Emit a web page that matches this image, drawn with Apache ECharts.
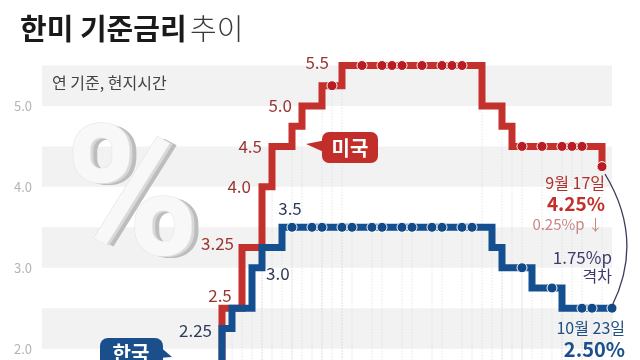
<!DOCTYPE html>
<html><head><meta charset="utf-8">
<script src="https://cdn.jsdelivr.net/npm/echarts@6/dist/echarts.min.js"></script>
<style>html,body{margin:0;padding:0;background:#fff}#c{width:640px;height:360px}</style>
</head><body><div id="c"></div>
<script>
// ---- data (month of decision, policy rate upper bound %) ----
const usDates = ['2022-06','2022-07','2022-09','2022-11','2022-12','2023-02','2023-03','2023-05','2023-06','2023-07','2023-09','2023-11','2023-12','2024-01','2024-03','2024-05','2024-06','2024-07','2024-09','2024-11','2024-12','2025-01','2025-03','2025-05','2025-06','2025-07','2025-09'];
const usRates = [1.75,2.5,3.25,4.0,4.5,4.75,5.0,5.25,5.25,5.5,5.5,5.5,5.5,5.5,5.5,5.5,5.5,5.5,5.0,4.75,4.5,4.5,4.5,4.5,4.5,4.5,4.25];
const krDates = ['2022-05','2022-07','2022-08','2022-10','2022-11','2023-01','2023-02','2023-04','2023-05','2023-07','2023-08','2023-10','2023-11','2024-01','2024-02','2024-04','2024-05','2024-07','2024-08','2024-10','2024-11','2025-01','2025-02','2025-04','2025-05','2025-07','2025-08','2025-10'];
const krRates = [1.75,2.25,2.5,3.0,3.25,3.5,3.5,3.5,3.5,3.5,3.5,3.5,3.5,3.5,3.5,3.5,3.5,3.5,3.5,3.25,3.0,3.0,2.75,2.75,2.5,2.5,2.5,2.5];
const usLabelDates = ['2022-07','2022-09','2022-11','2022-12','2023-03','2023-07'];
const krLabelDates = ['2022-07','2022-10','2023-01'];
const yTicks = [2.0, 3.0, 4.0, 5.0];
const axisStart = '2021-01';
const axisEnd = '2025-10';

// ---- helpers ----
const F = "'Noto Sans CJK KR','Noto Sans',sans-serif";
function mIdx(s){ const [y,m] = s.split('-').map(Number); return (y-2021)*12 + (m-1); }
function fmt(v){ return (Math.round(v*100)%10!==0) ? v.toFixed(2) : v.toFixed(1); }

const usLabelStyle = {
  '2022-07': {position:'top', offset:[-2,2]},
  '2022-09': {position:'left', offset:[-2,-4]},
  '2022-11': {position:'left', offset:[-5,0]},
  '2022-12': {position:'left', offset:[-4,0]},
  '2023-03': {position:'left', offset:[-4,0]},
  '2023-07': {position:'left', offset:[-7,-3]}
};
const krLabelStyle = {
  '2022-07': {position:'left', offset:[-4,2]},
  '2022-10': {position:'right', offset:[8,6]},
  '2023-01': {position:'top', offset:[8,-4]}
};

function build(dates, rates, labelDates, labelStyle, labelColor){
  return dates.map((d,i)=>{
    const hold = i>0 && rates[i]===rates[i-1];
    const last = i===dates.length-1;
    const dot = hold || last;
    const item = {value:[mIdx(d), rates[i]], symbol:'circle'};
    if (!dot) {
      item.symbolSize = 2;
      item.itemStyle = {color:'rgba(0,0,0,0)', borderWidth:0};
    }
    if (labelDates.includes(d)) {
      item.label = Object.assign({show:true, formatter: fmt(rates[i]), color:labelColor,
        fontSize:17, fontFamily:F, opacity:1}, labelStyle[d]);
    }
    return item;
  });
}
const usData = build(usDates, usRates, usLabelDates, usLabelStyle, '#9a3532');
const krData = build(krDates, krRates, krLabelDates, krLabelStyle, '#2e3b58');
const usMax = Math.max(...usRates);
const dropData = usData.filter((p,i)=>!(i>0 && usRates[i]===usRates[i-1] && usRates[i]===usMax))
  .concat(krData).map(p=>p.value);

const chart = echarts.init(document.getElementById('c'), null, {renderer:'canvas'});
chart.setOption({
  animation:false,
  backgroundColor:'#fff',
  grid:{left:42, top:65.5, width:570, height:323.6, containLabel:false, outerBoundsMode:'none'},
  xAxis:{type:'value', min:mIdx(axisStart), max:mIdx(axisEnd), show:false},
  yAxis:{type:'value', min:1.5, max:5.5, interval:0.5,
    axisLine:{show:false}, axisTick:{show:false}, splitLine:{show:false},
    splitArea:{show:true, areaStyle:{color:['rgba(255,255,255,0)','#f2f2f2']}},
    axisLabel:{margin:10, color:'#b4b4b4', fontSize:13, fontFamily:F,
      formatter:v=> yTicks.includes(v) ? v.toFixed(1) : ''}},
  series:[
    {type:'custom', z:1, silent:true, data:dropData,
      renderItem:(params, api)=>{
        const p = api.coord([api.value(0), api.value(1)]);
        const b = api.coord([api.value(0), 1.5]);
        return {type:'line', shape:{x1:p[0],y1:p[1],x2:b[0],y2:b[1]},
          style:{stroke:'#dedede', lineWidth:0.8, lineDash:[1.5,1.5]}};
      }},
    {type:'line', name:'미국', step:'end', z:3, data:usData, showAllSymbol:true,
      symbolSize:10, clip:true, silent:true,
      lineStyle:{color:'#c4312c', width:7, join:'miter', cap:'butt'},
      itemStyle:{color:'#b71d22', borderColor:'#fff', borderWidth:1}},
    {type:'line', name:'한국', step:'end', z:4, data:krData, showAllSymbol:true,
      symbolSize:10, clip:true, silent:true,
      lineStyle:{color:'#14508f', width:7, join:'miter', cap:'butt'},
      itemStyle:{color:'#124a87', borderColor:'#fff', borderWidth:1}}
  ],
  graphic:[
    {type:'text', x:20, y:29, z:10, style:{text:'{b|한미 기준금리} {l|추이}', textVerticalAlign:'middle',
      rich:{b:{fontSize:29, fontWeight:'bold', fill:'#1a1a1a', fontFamily:F},
            l:{fontSize:29, fontWeight:300, fill:'#3a3a3a', fontFamily:F}}}},
    {type:'text', x:52, y:83, z:10, style:{text:'연 기준, 현지시간', fontSize:16, fill:'#444', fontFamily:F, textVerticalAlign:'middle'}},
    // big decorative percent sign
    {type:'text', x:139, y:210, z:5, style:{text:'%', fontSize:182, fontWeight:'bold', fontFamily:'Roboto', fill:'#bdbdbd', textAlign:'center', textVerticalAlign:'middle'}},
    {type:'text', x:135, y:209, z:5, style:{text:'%', fontSize:182, fontWeight:'bold', fontFamily:'Roboto', fill:'#d9d9d9', textAlign:'center', textVerticalAlign:'middle'}},
    {type:'text', x:132, y:208, z:5, style:{text:'%', fontSize:182, fontWeight:'bold', fontFamily:'Roboto', fill:'#f8f8f8', stroke:'#e2e2e2', lineWidth:1, textAlign:'center', textVerticalAlign:'middle'}},
    // 미국 bubble
    {type:'polygon', z:10, shape:{points:[[326,140],[326,153],[306,144]]}, style:{fill:'#c22f2b'}},
    {type:'rect', z:10, shape:{x:322, y:132, width:56, height:31, r:7}, style:{fill:'#c22f2b'}},
    {type:'text', x:350, y:148, z:11, style:{text:'미국', fontSize:20, fontWeight:'bold', fill:'#fff', fontFamily:F, textAlign:'center', textVerticalAlign:'middle'}},
    // 한국 bubble
    {type:'polygon', z:10, shape:{points:[[158,345],[158,358],[172,357]]}, style:{fill:'#1b4f8c'}},
    {type:'rect', z:10, shape:{x:100, y:338, width:63, height:34, r:8}, style:{fill:'#1b4f8c'}},
    {type:'text', x:131, y:353, z:11, style:{text:'한국', fontSize:20, fontWeight:'bold', fill:'#fff', fontFamily:F, textAlign:'center', textVerticalAlign:'middle'}},
    // right annotations
    {type:'text', x:605, y:183, z:10, style:{text:'9월 17일', fontSize:16, fill:'#ad302c', fontFamily:F, textAlign:'right', textVerticalAlign:'middle'}},
    {type:'text', x:605, y:204, z:10, style:{text:'4.25%', fontSize:19, fontWeight:'bold', fill:'#c22f2b', fontFamily:F, textAlign:'right', textVerticalAlign:'middle'}},
    {type:'text', x:603, y:224, z:10, style:{text:'0.25%p ↓', fontSize:15, fill:'#c98784', fontFamily:F, textAlign:'right', textVerticalAlign:'middle'}},
    {type:'text', x:612, y:258, z:10, style:{text:'1.75%p', fontSize:17, fill:'#3d3a6c', fontFamily:F, textAlign:'right', textVerticalAlign:'middle'}},
    {type:'text', x:612, y:276, z:10, style:{text:'격차', fontSize:16, fill:'#3d3a6c', fontFamily:F, textAlign:'right', textVerticalAlign:'middle'}},
    {type:'text', x:625, y:328, z:10, style:{text:'10월 23일', fontSize:16, fill:'#1f4e85', fontFamily:F, textAlign:'right', textVerticalAlign:'middle'}},
    {type:'text', x:625, y:349, z:10, style:{text:'2.50%', fontSize:20, fontWeight:'bold', fill:'#1b4f8c', fontFamily:F, textAlign:'right', textVerticalAlign:'middle'}},
    {type:'bezierCurve', z:10, shape:{x1:605, y1:174, cpx1:645, cpy1:240, x2:612, y2:306}, style:{stroke:'#3a3a5c', lineWidth:1.3, fill:null}}
  ]
});
</script>
</body></html>
